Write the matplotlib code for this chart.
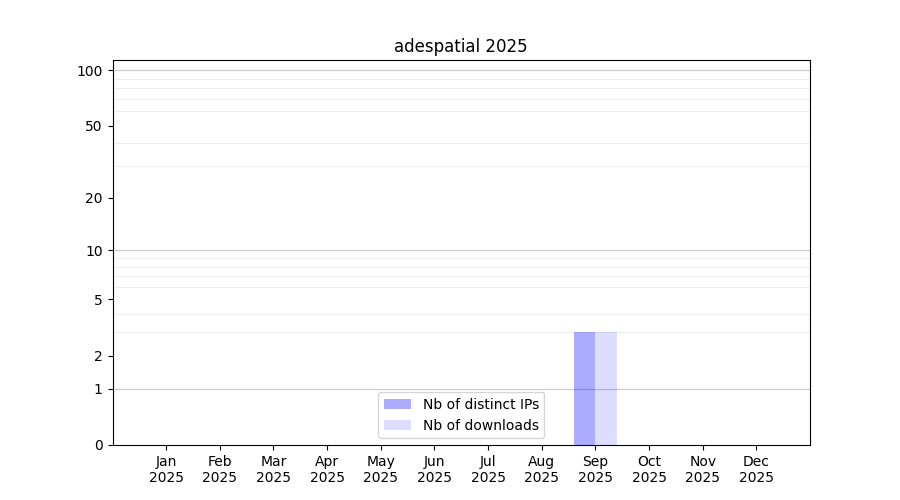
import numpy as np
import matplotlib.pyplot as plt
from matplotlib.ticker import FixedLocator, NullFormatter

months = ['Jan', 'Feb', 'Mar', 'Apr', 'May', 'Jun', 'Jul', 'Aug', 'Sep', 'Oct', 'Nov', 'Dec']
year = '2025'
ips = [0, 0, 0, 0, 0, 0, 0, 0, 3, 0, 0, 0]
downloads = [0, 0, 0, 0, 0, 0, 0, 0, 3, 0, 0, 0]

x = np.arange(len(months))
w = 0.4

fig, ax = plt.subplots(figsize=(9, 5), dpi=100)
ax.set_yscale('function', functions=(lambda v: np.log10(1 + np.clip(v, 0, None)),
                                     lambda v: 10**v - 1))

ax.bar(x, ips, width=-w, align='edge', color='blue', alpha=0.33, label='Nb of distinct IPs')
ax.bar(x, downloads, width=w, align='edge', color='blue', alpha=0.133, label='Nb of downloads')

ax.set_xticks(x)
ax.set_xticklabels([m + '\n' + year for m in months])
ax.set_xlim(-1, 12)

ax.set_ylim(0, 113.5)
ax.yaxis.set_major_locator(FixedLocator([0, 1, 2, 5, 10, 20, 50, 100]))
ax.set_yticklabels(['0', '1', '2', '5', '10', '20', '50', '100'])
ax.yaxis.set_minor_locator(FixedLocator([2, 3, 4, 5, 6, 7, 8, 9, 20, 30, 40, 50, 60, 70, 80, 90]))
ax.yaxis.set_minor_formatter(NullFormatter())
ax.tick_params(axis='y', which='minor', length=0)

for v in [1, 10, 100]:
    ax.axhline(v, color='#cccccc', linewidth=0.9, zorder=0)
ax.grid(True, axis='y', which='minor', color='#eeeeee', linewidth=0.8, zorder=0)
ax.set_axisbelow(True)

ax.set_title('adespatial 2025')
ax.legend(loc='lower center')

plt.savefig('out.png')
